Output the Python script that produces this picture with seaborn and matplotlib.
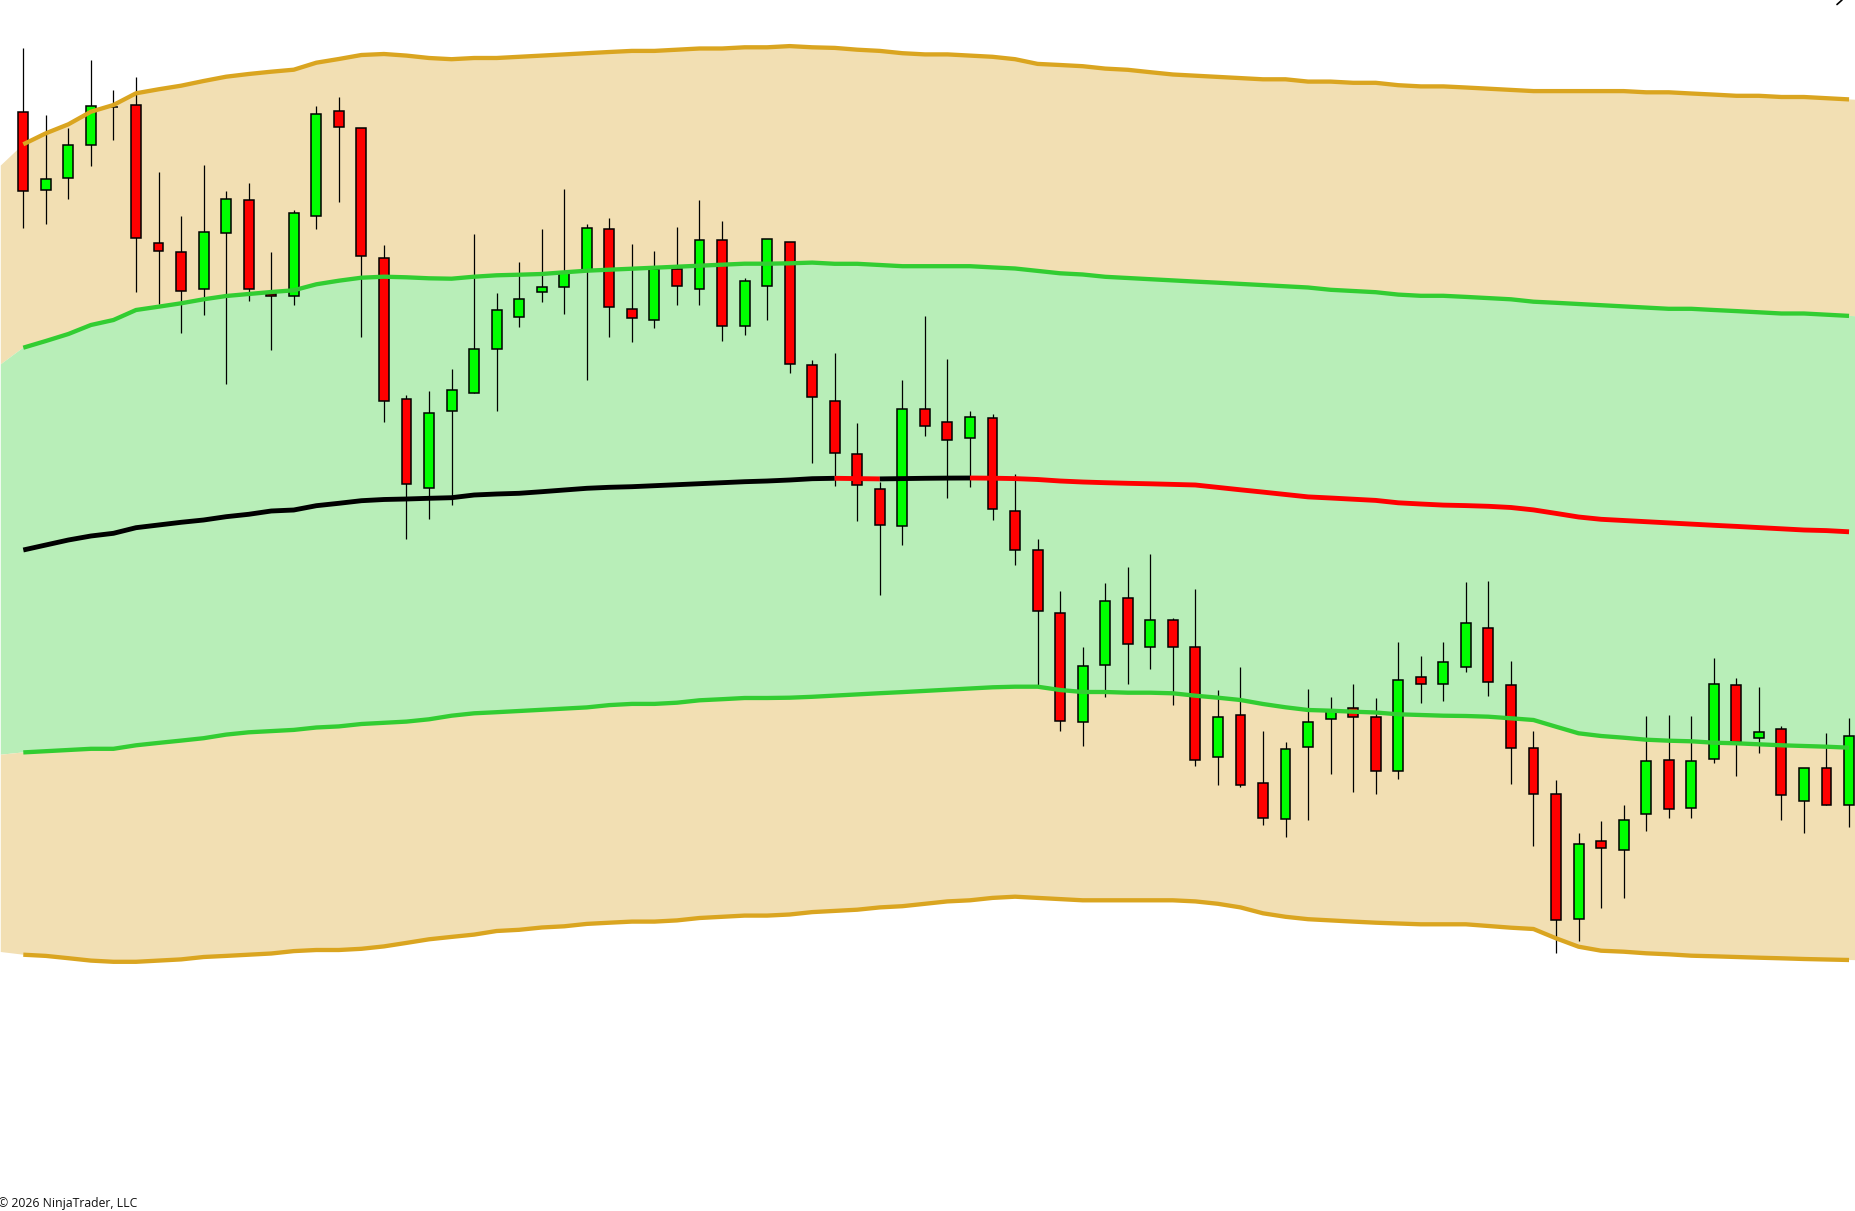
import numpy as np
import matplotlib
matplotlib.use("Agg")
import matplotlib.pyplot as plt
from matplotlib.lines import Line2D
import seaborn as sns

# ---------------- data (price units) ----------------
opens = [1098.7, 1020.7, 1032.7, 1065.7, 1104.5, 1105.7, 967.7, 958.7, 921.7, 977.7,
         1010.7, 916.7, 914.7, 994.7, 1099.7, 1082.7, 952.7, 811.7, 722.7, 799.7,
         817.7, 861.7, 893.7, 918.7, 923.7, 941.0, 981.7, 901.7, 890.7, 942.5,
         921.7, 970.7, 884.7, 924.7, 968.7, 845.7, 809.7, 756.7, 721.7, 684.7,
         801.7, 788.7, 772.7, 792.7, 699.7, 660.7, 597.7, 488.7, 545.7, 612.7,
         563.7, 590.7, 563.7, 453.7, 495.7, 427.7, 391.7, 463.7, 491.7, 502.7,
         493.7, 439.7, 533.7, 526.7, 543.7, 582.7, 525.7, 462.7, 416.7, 291.7,
         369.7, 360.7, 396.7, 450.7, 402.7, 451.7, 525.7, 472.7, 481.7, 409.7,
         442.7, 405.7]
closes = [1020.0, 1031.7, 1065.7, 1104.7, 1104.5, 972.7, 959.7, 920.3, 978.7, 1011.7,
          921.7, 914.7, 997.7, 1096.7, 1083.7, 954.7, 809.7, 726.7, 797.7, 820.7,
          861.7, 900.7, 911.7, 923.7, 939.0, 982.7, 903.7, 892.7, 942.5, 924.7,
          970.7, 884.7, 929.7, 971.7, 846.7, 813.7, 757.7, 725.7, 685.7, 801.7,
          784.7, 770.7, 793.7, 701.7, 660.7, 599.7, 489.7, 544.7, 609.7, 566.7,
          590.7, 563.7, 450.7, 493.7, 425.7, 392.7, 461.7, 488.7, 501.0, 493.7,
          439.7, 530.7, 526.7, 548.7, 587.7, 528.7, 462.7, 416.7, 290.7, 366.7,
          362.7, 390.7, 449.7, 401.7, 449.7, 526.7, 469.0, 478.7, 415.7, 442.7,
          405.7, 474.7]
highs = [1162.7, 1096.0, 1082.7, 1151.0, 1121.0, 1134.0, 1039.0, 995.0, 1046.0, 1020.0,
         1028.0, 959.0, 1001.0, 1105.0, 1114.0, 1082.7, 966.0, 816.0, 820.0, 842.0,
         977.0, 918.0, 949.0, 982.0, 1022.0, 986.7, 993.0, 967.0, 960.0, 984.0,
         1011.0, 990.0, 932.7, 971.7, 968.7, 851.0, 858.0, 788.0, 729.0, 831.0,
         895.0, 852.0, 800.0, 797.0, 737.0, 672.0, 620.0, 564.0, 628.0, 644.0,
         657.0, 592.7, 622.0, 521.0, 544.0, 480.0, 469.0, 522.0, 514.0, 527.0,
         513.0, 569.0, 555.0, 569.0, 629.0, 630.0, 550.0, 480.0, 431.0, 378.0,
         390.0, 406.0, 495.0, 496.0, 495.0, 553.0, 532.7, 524.0, 485.0, 442.7,
         478.0, 492.7]
lows = [983.3, 987.3, 1012.3, 1045.3, 1071.3, 919.3, 907.3, 878.3, 896.3, 827.3,
        910.3, 861.3, 906.3, 982.3, 1009.3, 874.3, 789.3, 671.7, 691.7, 706.3,
        817.7, 800.3, 884.3, 909.3, 897.3, 831.3, 874.3, 869.3, 883.3, 906.3,
        906.3, 870.3, 876.3, 891.3, 838.3, 748.3, 725.3, 690.3, 616.3, 666.3,
        775.3, 713.3, 724.3, 691.3, 646.3, 525.3, 480.3, 465.3, 514.3, 527.3,
        542.3, 506.3, 445.3, 426.3, 424.3, 385.7, 374.3, 391.3, 437.3, 419.3,
        417.3, 432.3, 508.3, 510.3, 539.3, 515.3, 427.3, 365.3, 258.3, 270.3,
        302.7, 312.7, 380.3, 393.3, 393.3, 448.3, 435.3, 458.3, 391.3, 378.3,
        405.7, 384.3]

# band values: one bar before the first candle, all candles, one bar after
upper_outer = [1045.4,
               1066.7, 1077.7, 1086.7, 1099.3, 1106.0, 1117.7, 1121.7, 1125.3, 1130.0, 1134.3,
               1137.0, 1139.3, 1141.3, 1148.3, 1152.0, 1156.0, 1157.0, 1155.4, 1153.0, 1151.8,
               1153.0, 1153.0, 1154.2, 1155.4, 1156.6, 1157.8, 1159.0, 1160.1, 1160.1, 1161.3,
               1162.5, 1162.5, 1163.7, 1163.7, 1164.9, 1163.7, 1163.1, 1161.3, 1160.1, 1157.8,
               1156.6, 1156.6, 1155.4, 1154.2, 1151.8, 1147.1, 1146.0, 1144.8, 1142.4, 1141.2,
               1138.8, 1136.5, 1135.3, 1134.1, 1132.9, 1131.7, 1131.7, 1129.4, 1129.4, 1128.2,
               1128.2, 1125.8, 1124.6, 1124.6, 1123.5, 1122.3, 1121.1, 1119.9, 1119.9, 1119.9,
               1119.9, 1119.9, 1118.7, 1118.7, 1117.5, 1116.4, 1115.2, 1115.2, 1114.0, 1114.0,
               1112.8, 1111.6,
               1110.4]
upper_inner = [846.6,
               863.3, 870.0, 877.0, 886.0, 891.0, 901.0, 904.3, 907.7, 911.7, 915.0,
               917.0, 919.0, 920.7, 926.7, 930.3, 933.3, 934.3, 933.7, 932.7, 932.3,
               934.3, 935.7, 936.3, 937.0, 938.7, 940.3, 941.3, 942.3, 943.3, 944.3,
               945.3, 946.3, 947.3, 947.3, 947.7, 948.4, 947.2, 947.2, 946.0, 944.8,
               944.8, 944.8, 944.8, 943.6, 942.5, 940.1, 937.7, 936.5, 934.2, 933.0,
               931.8, 930.6, 929.4, 928.3, 927.1, 925.9, 924.7, 923.5, 921.2, 920.0,
               918.8, 916.4, 915.2, 915.2, 914.1, 912.9, 911.7, 909.3, 908.2, 907.0,
               905.8, 904.6, 903.4, 902.2, 902.2, 901.0, 899.9, 898.7, 897.5, 897.5,
               896.3, 895.1,
               894.0]
middle = [661.0, 666.0, 671.0, 675.0, 677.7, 683.3, 686.0, 688.7, 691.0, 694.3,
          696.7, 700.0, 701.0, 705.3, 707.7, 710.3, 711.5, 712.0, 712.7, 713.3,
          716.0, 717.0, 717.7, 719.3, 721.0, 722.7, 723.7, 724.3, 725.3, 726.3,
          727.3, 728.3, 729.3, 730.0, 731.0, 732.3, 732.7, 732.4, 732.1, 732.4,
          732.7, 732.9, 733.0, 732.8, 732.4, 731.5, 730.0, 729.0, 728.3, 727.7,
          727.2, 726.6, 726.0, 723.6, 721.2, 718.9, 716.5, 714.1, 713.0, 711.8,
          710.6, 708.2, 707.0, 705.9, 705.4, 704.7, 703.5, 701.1, 697.6, 694.0,
          691.7, 690.5, 689.3, 688.1, 686.9, 685.7, 684.6, 683.4, 682.2, 681.0,
          680.4, 679.2]
lower_inner = [456.3,
               458.6, 459.8, 461.0, 462.2, 462.2, 465.7, 468.1, 470.4, 472.8, 476.4,
               478.7, 479.9, 481.1, 483.5, 484.6, 487.0, 488.2, 489.4, 491.7, 495.3,
               497.7, 498.8, 500.0, 501.2, 502.4, 503.6, 505.9, 507.1, 507.1, 508.3,
               510.7, 511.8, 513.0, 513.0, 513.3, 514.2, 515.4, 516.6, 517.8, 518.9,
               520.1, 521.3, 522.5, 523.7, 524.3, 524.3, 521.0, 519.0, 519.0, 518.3,
               518.3, 517.7, 515.3, 513.3, 511.0, 507.0, 503.7, 501.0, 500.3, 499.3,
               498.5, 496.7, 496.0, 495.3, 495.0, 494.3, 492.7, 491.0, 484.3, 477.7,
               475.0, 473.3, 471.3, 470.3, 469.7, 468.3, 467.7, 466.7, 465.7, 465.0,
               464.3, 463.3,
               462.6]
lower_outer = [259.0,
               256.3, 255.1, 252.8, 250.4, 249.2, 249.2, 250.4, 251.6, 254.0, 255.1,
               256.3, 257.5, 259.9, 261.0, 261.0, 262.2, 264.6, 268.1, 271.7, 274.1,
               276.4, 280.0, 281.2, 283.5, 284.7, 287.1, 288.3, 289.4, 289.4, 290.6,
               293.0, 294.2, 295.4, 295.4, 296.5, 298.9, 300.1, 301.3, 303.6, 304.8,
               307.2, 309.6, 310.7, 313.1, 314.3, 313.1, 311.9, 310.7, 310.7, 310.7,
               310.7, 310.7, 309.6, 307.2, 303.6, 297.7, 294.2, 291.8, 290.6, 289.4,
               288.3, 287.5, 286.7, 286.7, 286.7, 285.0, 283.3, 282.0, 272.7, 264.3,
               260.3, 259.3, 257.7, 256.7, 255.3, 254.7, 254.0, 253.3, 252.7, 252.0,
               251.5, 251.0,
               250.5]

copyright_text = "\u00a9 2026 NinjaTrader, LLC"

# ---------------- styling ----------------
sns.set_theme(style="white")
plt.rcParams['font.family'] = ['Open Sans', 'DejaVu Sans']

WHEAT = '#F2DFB3'
MINT = '#B8EEB8'
GOLD = '#DAA520'
LIME = '#32CD32'
UPC = '#00FF00'
DNC = '#FF0000'

W, H = 1855, 1211
fig = plt.figure(figsize=(W / 100, H / 100), dpi=100)
fig.patch.set_facecolor('white')
ax = fig.add_axes([0, 0, 1, 1])
ax.set_facecolor('white')

n = len(opens)
bx = np.arange(n)
fx = np.arange(-1, n + 1)

# band fills
ax.fill_between(fx, upper_outer, upper_inner, color=WHEAT, lw=0, zorder=1)
ax.fill_between(fx, upper_inner, lower_inner, color=MINT, lw=0, zorder=1)
ax.fill_between(fx, lower_inner, lower_outer, color=WHEAT, lw=0, zorder=1)

# candles
o = np.array(opens)
c = np.array(closes)
ax.vlines(bx, lows, highs, color='black', lw=0.9, zorder=2)
body_colors = np.where(c >= o, UPC, DNC)
ax.bar(bx, c - o, bottom=o, width=0.44, color=body_colors,
       edgecolor='black', linewidth=1.1, zorder=3)

# band lines
for vals, col in [(upper_outer, GOLD), (lower_outer, GOLD),
                  (upper_inner, LIME), (lower_inner, LIME)]:
    sns.lineplot(x=bx, y=np.array(vals[1:-1]), color=col, lw=3.1, ax=ax,
                 zorder=4, solid_capstyle='butt')

# middle line: black while rising, red while falling
mid = np.array(middle)
seg_cols = ['black' if mid[i + 1] >= mid[i] else DNC for i in range(n - 1)]
runs = []
start = 0
for i in range(1, n - 1):
    if seg_cols[i] != seg_cols[start]:
        runs.append((start, i, seg_cols[start]))
        start = i
runs.append((start, n - 1, seg_cols[start]))
for s, e, col in runs:
    sns.lineplot(x=bx[s:e + 1], y=mid[s:e + 1], color=col,
                 lw=3.5, ax=ax, zorder=5, solid_capstyle='butt')

spacing = 22.54
x0 = -23.3 / spacing
ax.set_xlim(x0, x0 + W / spacing)
ax.set_ylim(0, H)
ax.axis('off')
if ax.get_legend() is not None:
    ax.get_legend().remove()

fig.text(-2 / W, 4 / H, copyright_text, fontsize=8.8, color='#111111',
         ha='left', va='baseline')
# small cut-off window-control stroke at the top right corner
fig.add_artist(Line2D([1837 / W, 1842 / W], [(H - 4.5) / H, 1.0],
                      transform=fig.transFigure, color='black', lw=1.2))

fig.savefig('out.png', dpi=100, facecolor='white')
